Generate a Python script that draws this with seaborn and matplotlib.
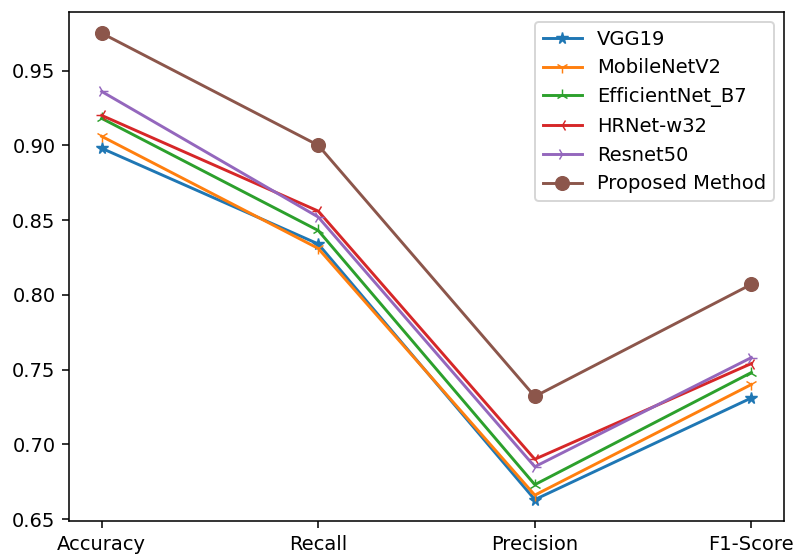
import numpy as np
import pandas as pd
import matplotlib
matplotlib.use("Agg")
import matplotlib.pyplot as plt
import seaborn as sns

metrics = ["Accuracy", "Recall", "Precision", "F1-Score"]
models = ["VGG19", "MobileNetV2", "EfficientNet_B7", "HRNet-w32", "Resnet50", "Proposed Method"]

vgg19 = [0.898, 0.834, 0.663, 0.731]
mobilenet_v2 = [0.906, 0.831, 0.666, 0.740]
efficientnet_b7 = [0.918, 0.843, 0.673, 0.748]
hrnet_w32 = [0.920, 0.856, 0.690, 0.754]
resnet50 = [0.936, 0.852, 0.685, 0.758]
proposed = [0.975, 0.900, 0.732, 0.807]

series = [vgg19, mobilenet_v2, efficientnet_b7, hrnet_w32, resnet50, proposed]
markers = ["*", "1", "2", "3", "4", "o"]
sizes = [6, 6, 6, 6, 6, 7]

df = pd.DataFrame({
    "metric": metrics * len(models),
    "score": np.concatenate(series),
    "model": np.repeat(models, len(metrics)),
})

fig = plt.figure(figsize=(795 / 140, 556 / 140), dpi=140)
ax = fig.add_axes([0.087, 0.063, 0.899, 0.915])
palette = sns.color_palette("tab10")

for i, name in enumerate(models):
    sub = df[df["model"] == name]
    sns.lineplot(data=sub, x="metric", y="score", ax=ax, color=palette[i],
                 marker=markers[i], markersize=sizes[i], markeredgecolor=palette[i],
                 label=name, sort=False)

ax.set_xlabel("")
ax.set_ylabel("")
ax.set_yticks([0.65, 0.70, 0.75, 0.80, 0.85, 0.90, 0.95])
ax.set_ylim(0.6487, 0.989)
ax.set_xlim(-0.15, 3.15)
ax.legend(loc="upper right")

fig.savefig("out.png", dpi=140)
